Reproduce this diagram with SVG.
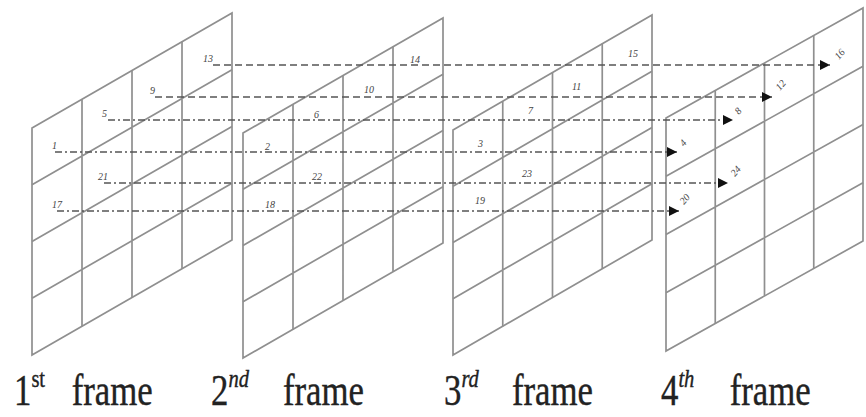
<svg xmlns="http://www.w3.org/2000/svg" width="866" height="417" viewBox="0 0 866 417">
<style>
.grid{fill:#fff;stroke:#8f8f8f;stroke-width:1.7}
.gl{fill:none;stroke:#8f8f8f;stroke-width:1.7}
.dash{fill:none;stroke:#555;stroke-width:1.6;stroke-dasharray:7 4}
.dd{fill:none;stroke:#555;stroke-width:1.6;stroke-dasharray:7 3 2 3}
.lbl{font-family:"Liberation Serif",serif;font-size:10px;font-style:italic;fill:#444}
.cap{font-family:"Liberation Serif",serif;font-size:44px;fill:#222;stroke:#222;stroke-width:0.4}
.sup{font-size:26px}
</style>
<defs>
<marker id="ah" viewBox="0 0 10 10" refX="10" refY="5" markerWidth="10" markerHeight="10" markerUnits="userSpaceOnUse" orient="auto">
<path d="M0,0 L10,5 L0,10 z" fill="#111"/>
</marker>
</defs>
<g id="frame1">
<path class="grid" d="M32,128 L232,13 L232,240 L32,355 Z"/>
<path class="gl" d="M82,99.25 V326.25 M132,70.5 V297.5 M182,41.75 V268.75 M32,184.75 L232,69.75 M32,241.5 L232,126.5 M32,298.25 L232,183.25"/>
</g>
<g id="frame2">
<path class="grid" d="M243,133 L443,18 L443,243 L243,358 Z"/>
<path class="gl" d="M293,104.25 V329.25 M343,75.5 V300.5 M393,46.75 V271.75 M243,189.25 L443,74.25 M243,245.5 L443,130.5 M243,301.75 L443,186.75"/>
</g>
<g id="frame3">
<path class="grid" d="M453,130 L652,15 L652,240 L453,355 Z"/>
<path class="gl" d="M502.75,101.25 V326.25 M552.5,72.5 V297.5 M602.25,43.75 V268.75 M453,186.25 L652,71.25 M453,242.5 L652,127.5 M453,298.75 L652,183.75"/>
</g>
<g id="frame4">
<path class="grid" d="M666,118 L863,8 L863,241 L666,351 Z"/>
<path class="gl" d="M715.25,90.5 V323.5 M764.5,63 V296 M813.75,35.5 V268.5 M666,176.25 L863,66.25 M666,234.5 L863,124.5 M666,292.75 L863,182.75"/>
</g>
<g id="connectors">
<path class="dash" d="M213,65 H830" marker-end="url(#ah)"/>
<path class="dash" d="M155,97 H772" marker-end="url(#ah)"/>
<path class="dd" d="M108,120 H733" marker-end="url(#ah)"/>
<path class="dd" d="M55,152 H677" marker-end="url(#ah)"/>
<path class="dd" d="M104,183 H728" marker-end="url(#ah)"/>
<path class="dd" d="M57,211 H679" marker-end="url(#ah)"/>
</g>
<g id="labels">
<text class="lbl" x="203" y="62">13</text>
<text class="lbl" x="150" y="94">9</text>
<text class="lbl" x="102" y="117">5</text>
<text class="lbl" x="52" y="149">1</text>
<text class="lbl" x="98" y="180">21</text>
<text class="lbl" x="52" y="208">17</text>
<text class="lbl" x="410" y="63">14</text>
<text class="lbl" x="364" y="93">10</text>
<text class="lbl" x="314" y="118">6</text>
<text class="lbl" x="265" y="150">2</text>
<text class="lbl" x="312" y="180">22</text>
<text class="lbl" x="265" y="208">18</text>
<text class="lbl" x="628" y="57">15</text>
<text class="lbl" x="572" y="90">11</text>
<text class="lbl" x="528" y="114">7</text>
<text class="lbl" x="478" y="147">3</text>
<text class="lbl" x="522" y="177">23</text>
<text class="lbl" x="475" y="204">19</text>
<text class="lbl" transform="translate(839,60) rotate(-50)">16</text>
<text class="lbl" transform="translate(780,91) rotate(-50)">12</text>
<text class="lbl" transform="translate(739,115) rotate(-50)">8</text>
<text class="lbl" transform="translate(684,147) rotate(-50)">4</text>
<text class="lbl" transform="translate(735,177) rotate(-50)">24</text>
<text class="lbl" transform="translate(684,205) rotate(-50)">20</text>
</g>
<g id="captions">
<text class="cap" transform="translate(14,405) scale(0.79,1)">1<tspan class="sup" dy="-18">st</tspan><tspan x="73" dy="18">frame</tspan></text>
<text class="cap" transform="translate(211,405) scale(0.79,1)">2<tspan class="sup" dy="-18" font-style="italic">nd</tspan><tspan x="91" dy="18">frame</tspan></text>
<text class="cap" transform="translate(444,405) scale(0.79,1)">3<tspan class="sup" dy="-18" font-style="italic">rd</tspan><tspan x="86" dy="18">frame</tspan></text>
<text class="cap" transform="translate(661,405) scale(0.79,1)">4<tspan class="sup" dy="-18" font-style="italic">th</tspan><tspan x="87" dy="18">frame</tspan></text>
</g>
</svg>
